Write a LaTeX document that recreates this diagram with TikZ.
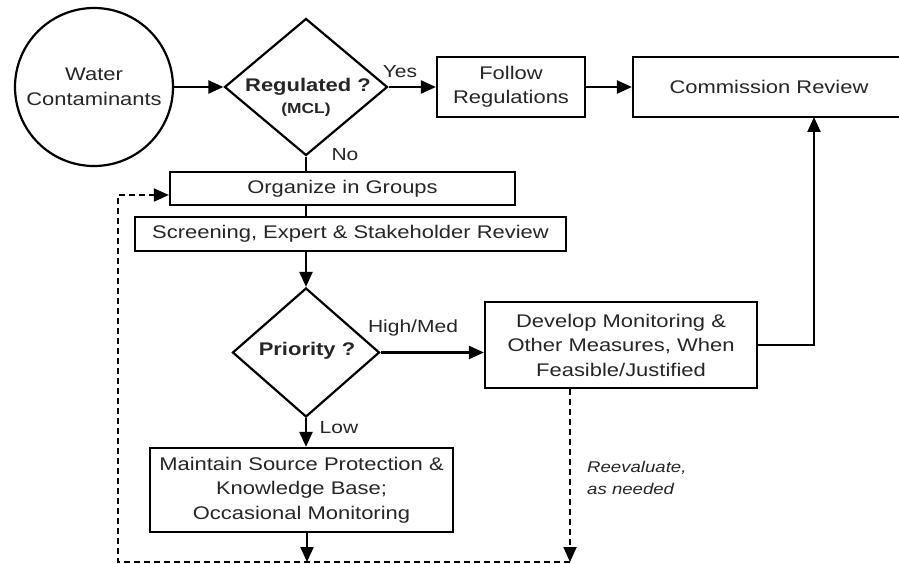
\documentclass[tikz,border=0pt]{standalone}
\usepackage{fontspec}
\setmainfont{Liberation Sans}[FakeStretch=1.2]
\usetikzlibrary{shapes.geometric,arrows.meta}
\definecolor{txt}{HTML}{262626}
\begin{document}
\begin{tikzpicture}[x=1pt,y=-1pt,
  every node/.style={text=txt, font=\fontsize{18.3}{24.5}\selectfont, inner sep=0pt},
  box/.style={draw=black, line width=2.2pt, align=center, rectangle},
  dia/.style={diamond, draw=black, line width=2.2pt},
  conn/.style={line width=2.2pt, -{Triangle[length=15pt,width=13pt]}},
  plainline/.style={line width=2.2pt},
  dashline/.style={line width=1.8pt, dash pattern=on 6pt off 4pt},
  lbl/.style={font=\fontsize{17.5}{20}\selectfont}
]
\clip (0,0) rectangle (899,564);
\fill[white] (0,0) rectangle (899,564);

% nodes
\node[circle, draw=black, line width=2.2pt, minimum size=158pt, align=center] (wc) at (94,87) {Water\\Contaminants};
\node[dia, minimum width=163pt, minimum height=137pt] (reg) at (306,87) {};
\node[font=\bfseries\fontsize{18.3}{22}\selectfont] (regt) at (308,87) {Regulated ?};
\node[font=\bfseries\fontsize{14.5}{18}\selectfont] (mcl) at (306,110) {(MCL)};
\node[box, minimum width=148pt, minimum height=60pt] (fr) at (511,87) {Follow\\Regulations};
\node[box, minimum width=272pt, minimum height=60pt] (cr) at (769,87) {Commission Review};
\node[box, minimum width=345pt, minimum height=33pt] (og) at (342.5,188.5) {Organize in Groups};
\node[box, minimum width=431pt, minimum height=34pt] (sc) at (350.5,234) {Screening, Expert \& Stakeholder Review};
\node[dia, minimum width=147pt, minimum height=129pt] (pr) at (306,352.5) {};
\node[font=\bfseries\fontsize{18.3}{22}\selectfont] (prt) at (307,351) {Priority ?};
\node[box, minimum width=272pt, minimum height=86pt] (dv) at (621,345) {Develop Monitoring \&\\Other Measures, When\\Feasible/Justified};
\node[box, minimum width=303pt, minimum height=84pt] (mt) at (301.5,490) {Maintain Source Protection \&\\Knowledge Base;\\Occasional Monitoring};

% labels
\node[lbl] (yes) at (400,72) {Yes};
\node[lbl] (no) at (345,155) {No};
\node[lbl] (hm) at (413,328) {High/Med};
\node[lbl] (low) at (339,428) {Low};
\node[font=\itshape\fontsize{15.5}{22}\selectfont, align=left, anchor=west] (re) at (587,478) {Reevaluate,\\as needed};

% coordinates
\coordinate (crin) at (814,117);
\coordinate (b1) at (307,562);
\coordinate (b2) at (570,562);
\coordinate (c1) at (118,562);
\coordinate (c2) at (118,195);

% connectors
\draw[conn] (wc.east) -- (reg.west);
\draw[conn] (reg.east) -- (fr.west);
\draw[conn] (fr.east) -- (cr.west);
\draw[plainline] (reg.south) -- (reg.south |- og.north);
\draw[plainline] (reg.south |- og.south) -- (reg.south |- sc.north);
\draw[conn] (pr.north |- sc.south) -- (pr.north);
\draw[conn] (pr.east) -- (pr.east -| dv.west);
\draw[conn] (dv.east) -| (crin);
\draw[conn] (pr.south) -- (pr.south |- mt.north);
\draw[conn] (b1 |- mt.south) -- (b1);
\draw[dashline, -{Triangle[length=15pt,width=13pt]}] (b2 |- dv.south) -- (b2);
\draw[dashline, -{Triangle[length=15pt,width=13pt]}] (b2) -- (c1) -- (c2) -- (c2 -| og.west);
\end{tikzpicture}
\end{document}
